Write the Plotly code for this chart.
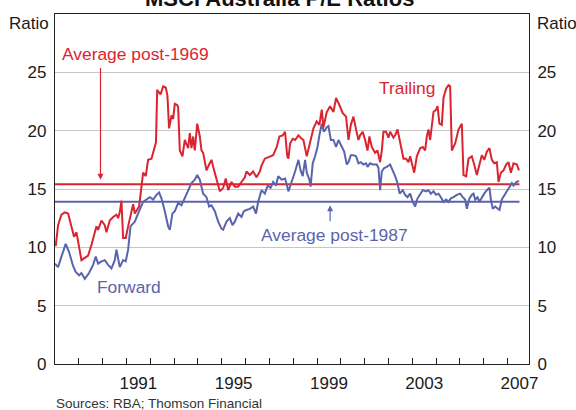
import plotly.graph_objects as go

# MSCI Australia price/earnings ratios (decimal years)
trail_year = [
    1988.03, 1988.13, 1988.27, 1988.41, 1988.55, 1988.69, 1988.80, 1988.90, 1989.01, 1989.11,
    1989.25, 1989.39, 1989.53, 1989.63, 1989.74, 1989.81, 1989.95, 1990.09, 1990.16, 1990.30,
    1990.44, 1990.58, 1990.65, 1990.72, 1990.79, 1990.86, 1990.97, 1991.07, 1991.17, 1991.28,
    1991.35, 1991.45, 1991.53, 1991.59, 1991.70, 1991.81, 1991.91, 1992.05, 1992.19, 1992.24,
    1992.29, 1992.43, 1992.54, 1992.65, 1992.72, 1992.79, 1992.89, 1992.96, 1993.03, 1993.13,
    1993.17, 1993.24, 1993.35, 1993.45, 1993.59, 1993.66, 1993.73, 1993.80, 1993.87, 1993.97,
    1994.08, 1994.15, 1994.22, 1994.36, 1994.47, 1994.57, 1994.64, 1994.78, 1994.92, 1995.06,
    1995.17, 1995.27, 1995.41, 1995.55, 1995.69, 1995.83, 1995.97, 1996.04, 1996.18, 1996.32,
    1996.46, 1996.60, 1996.67, 1996.81, 1997.02, 1997.16, 1997.31, 1997.42, 1997.56, 1997.66,
    1997.75, 1997.80, 1997.87, 1997.98, 1998.08, 1998.22, 1998.31, 1998.43, 1998.57, 1998.71,
    1998.85, 1998.99, 1999.10, 1999.20, 1999.27, 1999.41, 1999.55, 1999.69, 1999.80, 1999.94,
    2000.08, 2000.22, 2000.32, 2000.42, 2000.53, 2000.64, 2000.74, 2000.81, 2000.92, 2001.02,
    2001.12, 2001.20, 2001.30, 2001.44, 2001.54, 2001.65, 2001.72, 2001.79, 2001.90, 2002.00,
    2002.07, 2002.21, 2002.28, 2002.38, 2002.49, 2002.63, 2002.74, 2002.84, 2002.91, 2003.01,
    2003.08, 2003.19, 2003.33, 2003.44, 2003.54, 2003.61, 2003.68, 2003.75, 2003.82, 2003.89,
    2004.00, 2004.06, 2004.14, 2004.24, 2004.31, 2004.42, 2004.52, 2004.59, 2004.66, 2004.80,
    2004.94, 2005.08, 2005.15, 2005.26, 2005.36, 2005.50, 2005.60, 2005.71, 2005.82, 2005.92,
    2006.02, 2006.13, 2006.24, 2006.34, 2006.44, 2006.55, 2006.62, 2006.72, 2006.83, 2006.94,
    2007.04, 2007.14, 2007.25, 2007.39, 2007.48,
]
trail_pe = [
    10.1, 11.9, 12.8, 13.0, 12.9, 11.9, 10.9, 11.3, 10.0, 8.9,
    9.1, 9.3, 10.2, 11.0, 11.8, 11.5, 12.3, 11.9, 11.3, 12.3,
    12.6, 12.8, 12.5, 13.0, 14.0, 10.8, 10.8, 11.8, 12.8, 13.7,
    12.9, 13.2, 13.5, 14.5, 16.4, 16.1, 17.5, 17.6, 18.6, 19.0,
    23.5, 23.1, 23.8, 23.7, 23.0, 20.2, 21.3, 21.0, 22.3, 22.2,
    22.0, 18.3, 17.8, 19.2, 18.5, 19.8, 18.5, 19.5, 18.3, 20.6,
    19.5, 18.3, 18.1, 16.6, 17.1, 17.5, 16.9, 15.8, 14.8, 15.1,
    15.9, 14.9, 15.6, 15.2, 15.2, 15.6, 16.0, 16.5, 16.2, 16.5,
    16.0, 16.5, 17.0, 17.6, 17.8, 17.9, 18.6, 19.5, 19.6, 19.9,
    17.8, 17.6, 18.9, 19.3, 19.2, 19.6, 19.4, 19.2, 17.8, 18.9,
    20.2, 20.8, 20.5, 21.8, 20.3, 21.6, 22.1, 21.6, 22.8, 22.2,
    21.5, 21.2, 19.2, 20.5, 21.2, 20.1, 19.2, 19.6, 19.9, 19.2,
    18.3, 19.5, 18.6, 18.1, 18.3, 17.3, 18.3, 19.9, 19.9, 19.4,
    19.9, 19.4, 19.6, 20.1, 18.9, 17.6, 17.6, 17.3, 17.8, 17.1,
    16.4, 17.8, 18.5, 18.6, 18.3, 19.5, 20.1, 19.2, 20.6, 21.6,
    21.8, 22.1, 20.6, 20.5, 22.8, 23.6, 23.9, 23.8, 18.3, 18.9,
    20.1, 20.6, 16.2, 16.1, 17.6, 17.8, 17.1, 16.2, 17.1, 17.9,
    17.5, 18.2, 18.5, 17.5, 17.2, 17.3, 15.6, 16.4, 16.6, 17.1,
    17.3, 16.4, 17.2, 17.1, 16.6,
]

fwd_year = [
    1988.00, 1988.13, 1988.27, 1988.45, 1988.59, 1988.76, 1988.87, 1989.01, 1989.11, 1989.25,
    1989.43, 1989.60, 1989.71, 1989.81, 1989.95, 1990.09, 1990.23, 1990.37, 1990.51, 1990.58,
    1990.72, 1990.86, 1990.97, 1991.07, 1991.17, 1991.35, 1991.53, 1991.70, 1991.84, 1991.98,
    1992.12, 1992.26, 1992.37, 1992.47, 1992.61, 1992.75, 1992.82, 1992.93, 1993.03, 1993.17,
    1993.31, 1993.45, 1993.59, 1993.73, 1993.87, 1993.97, 1994.08, 1994.22, 1994.36, 1994.47,
    1994.57, 1994.71, 1994.85, 1994.99, 1995.06, 1995.20, 1995.34, 1995.45, 1995.55, 1995.69,
    1995.83, 1995.93, 1996.04, 1996.18, 1996.32, 1996.44, 1996.53, 1996.67, 1996.81, 1996.93,
    1997.05, 1997.16, 1997.28, 1997.37, 1997.52, 1997.66, 1997.80, 1997.94, 1998.08, 1998.22,
    1998.31, 1998.40, 1998.50, 1998.57, 1998.68, 1998.73, 1998.82, 1998.92, 1999.02, 1999.10,
    1999.20, 1999.29, 1999.41, 1999.48, 1999.58, 1999.69, 1999.80, 1999.90, 2000.04, 2000.14,
    2000.25, 2000.32, 2000.42, 2000.53, 2000.64, 2000.74, 2000.84, 2000.95, 2001.06, 2001.12,
    2001.23, 2001.34, 2001.51, 2001.58, 2001.65, 2001.72, 2001.82, 2001.93, 2002.07, 2002.18,
    2002.28, 2002.38, 2002.47, 2002.60, 2002.70, 2002.80, 2002.91, 2003.02, 2003.12, 2003.22,
    2003.33, 2003.44, 2003.58, 2003.68, 2003.78, 2003.89, 2004.00, 2004.10, 2004.20, 2004.31,
    2004.42, 2004.52, 2004.62, 2004.73, 2004.87, 2005.01, 2005.12, 2005.22, 2005.29, 2005.40,
    2005.50, 2005.57, 2005.64, 2005.74, 2005.82, 2005.92, 2006.02, 2006.13, 2006.24, 2006.30,
    2006.38, 2006.48, 2006.58, 2006.66, 2006.76, 2006.86, 2006.97, 2007.09, 2007.18, 2007.25,
    2007.37, 2007.48,
]
fwd_pe = [
    8.6, 8.3, 9.2, 10.3, 9.6, 8.4, 7.9, 7.6, 7.8, 7.3,
    7.8, 8.5, 9.2, 8.6, 8.8, 8.9, 8.5, 8.2, 8.9, 9.8,
    8.3, 8.9, 8.8, 9.8, 11.8, 12.2, 13.1, 13.9, 14.1, 14.3,
    14.1, 14.5, 14.7, 14.2, 13.1, 11.8, 11.5, 12.9, 13.1, 13.8,
    13.6, 14.2, 14.8, 15.5, 15.8, 16.2, 15.8, 14.6, 14.3, 13.5,
    13.6, 13.1, 12.2, 11.6, 11.5, 12.2, 12.5, 11.9, 12.2, 12.9,
    12.6, 13.1, 13.2, 13.3, 13.5, 12.9, 13.9, 14.9, 14.6, 15.3,
    15.1, 15.6, 15.3, 16.1, 15.8, 15.9, 14.8, 15.6, 16.5, 17.5,
    16.6, 16.1, 17.5, 16.4, 15.8, 15.2, 17.2, 17.8, 18.6, 19.6,
    20.6, 19.9, 20.3, 20.4, 19.2, 19.2, 18.6, 19.2, 18.6, 18.2,
    17.1, 17.3, 17.9, 17.9, 17.8, 17.2, 17.3, 17.1, 17.2, 16.9,
    17.2, 17.1, 17.1, 16.8, 14.9, 16.5, 16.8, 16.9, 17.1, 16.6,
    16.1, 15.5, 14.6, 14.9, 14.5, 14.3, 14.6, 13.9, 13.5, 14.2,
    14.6, 14.9, 14.8, 14.9, 14.6, 14.8, 14.5, 14.6, 14.3, 13.9,
    14.1, 13.9, 14.2, 14.3, 14.5, 14.6, 14.3, 14.1, 13.3, 14.2,
    14.5, 14.6, 14.1, 14.3, 13.9, 14.3, 14.6, 14.9, 15.1, 14.1,
    13.3, 13.5, 13.3, 13.2, 14.1, 14.5, 14.8, 15.2, 15.5, 15.3,
    15.6, 15.7,
]

# Long-run averages
avg_span = [1988.0, 2007.5]
avg_trailing_post1969 = 15.4
avg_forward_post1987 = 13.9

# Axis labelling
year_label_pos = [1991.5, 1995.5, 1999.5, 2003.5, 2007.5]
year_labels = ["1991", "1995", "1999", "2003", "2007"]
year_boundaries = list(range(1989, 2008))
ratio_ticks = [0, 5, 10, 15, 20, 25]

RED = "#da2530"
BLUE = "#5a64ac"
FONT = "Liberation Sans, Arial, sans-serif"

fig = go.Figure()

fig.add_trace(go.Scatter(x=avg_span, y=[avg_forward_post1987] * 2, mode="lines",
                         line=dict(color=BLUE, width=2), hoverinfo="skip"))
fig.add_trace(go.Scatter(x=avg_span, y=[avg_trailing_post1969] * 2, mode="lines",
                         line=dict(color=RED, width=2), hoverinfo="skip"))
fig.add_trace(go.Scatter(x=fwd_year, y=fwd_pe, mode="lines", name="Forward",
                         line=dict(color=BLUE, width=2)))
fig.add_trace(go.Scatter(x=trail_year, y=trail_pe, mode="lines", name="Trailing",
                         line=dict(color=RED, width=2)))
# invisible trace to activate the right-hand axis
fig.add_trace(go.Scatter(x=[1988], y=[0], yaxis="y2", mode="markers",
                         marker=dict(opacity=0), hoverinfo="skip"))

fig.update_layout(
    width=576, height=410,
    margin=dict(l=55, r=47, t=14, b=46),
    paper_bgcolor="white", plot_bgcolor="white",
    showlegend=False,
    font=dict(family=FONT, size=17, color="#1a1a1a"),
    xaxis=dict(
        range=[1988, 2007.9],
        tickmode="array", tickvals=year_label_pos, ticktext=year_labels,
        ticks="outside", ticklen=3, tickcolor="rgba(0,0,0,0)",
        showgrid=False, zeroline=False,
        showline=True, linecolor="#222", linewidth=1.2, mirror=True,
        minor=dict(tickmode="array", tickvals=year_boundaries, ticks="inside",
                   ticklen=6, tickcolor="#222", tickwidth=1, showgrid=False),
    ),
    yaxis=dict(
        range=[0, 30],
        tickmode="array", tickvals=ratio_ticks,
        ticks="outside", ticklen=4, tickcolor="rgba(0,0,0,0)",
        showgrid=True, gridcolor="#c6c6c6", gridwidth=1, zeroline=False,
        showline=True, linecolor="#222", linewidth=1.2, mirror=True,
    ),
    yaxis2=dict(
        range=[0, 30], overlaying="y", side="right",
        tickmode="array", tickvals=ratio_ticks,
        ticks="outside", ticklen=4, tickcolor="rgba(0,0,0,0)",
        showgrid=False, zeroline=False, showline=False,
    ),
)

annotations = [
    dict(text="<b>MSCI Australia P/E Ratios</b>", xref="paper", yref="paper",
         x=0.4726, y=1.045, xanchor="center", yanchor="middle", showarrow=False,
         font=dict(size=22, color="#111")),
    dict(text="Ratio", xref="paper", yref="paper", x=0, y=1, xanchor="right",
         yanchor="top", xshift=-4, yshift=2, showarrow=False),
    dict(text="Ratio", xref="paper", yref="paper", x=1, y=1, xanchor="left",
         yanchor="top", xshift=6, yshift=2, showarrow=False),
    dict(text="Average post-1969", x=1988.2, y=26.6, xanchor="left", yanchor="middle",
         showarrow=False, font=dict(color=RED, size=17.4)),
    dict(text="Trailing", x=2002.78, y=23.7, xanchor="center", yanchor="middle",
         showarrow=False, font=dict(color=RED, size=17.4)),
    dict(text="Average post-1987", x=1999.75, y=11.1, xanchor="center", yanchor="middle",
         showarrow=False, font=dict(color=BLUE, size=17.4)),
    dict(text="Forward", x=1991.1, y=6.6, xanchor="center", yanchor="middle",
         showarrow=False, font=dict(color=BLUE, size=17.4)),
    dict(text="Sources: RBA; Thomson Financial", xref="paper", yref="paper",
         x=0, y=0, xanchor="left", yanchor="top", xshift=-1, yshift=-30,
         showarrow=False, font=dict(size=13.5, color="#333")),
    # arrows pointing at the average lines
    dict(x=1989.91, y=15.8, ax=1989.91, ay=25.5, xref="x", yref="y", axref="x", ayref="y",
         text="", showarrow=True, arrowhead=2, arrowsize=1, arrowwidth=1.2, arrowcolor=RED),
    dict(x=1999.55, y=13.6, ax=1999.55, ay=12.1, xref="x", yref="y", axref="x", ayref="y",
         text="", showarrow=True, arrowhead=2, arrowsize=1, arrowwidth=1.2, arrowcolor=BLUE),
]
fig.update_layout(annotations=annotations)

fig.write_html("out.html")
